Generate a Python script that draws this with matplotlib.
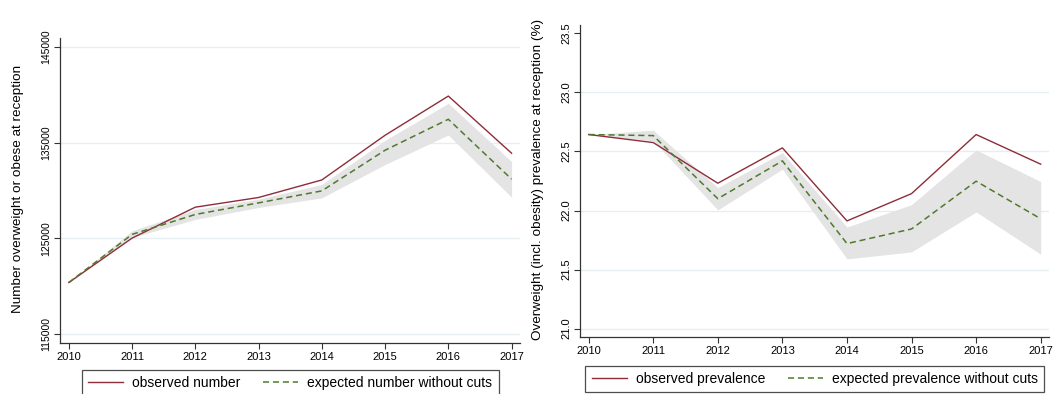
import matplotlib
matplotlib.use("Agg")
import matplotlib.pyplot as plt
from matplotlib.ticker import FixedLocator, FormatStrFormatter

plt.rcParams['font.family'] = ['Liberation Sans', 'DejaVu Sans']

years = [2010, 2011, 2012, 2013, 2014, 2015, 2016, 2017]

# Left panel: number overweight or obese at reception
num_observed = [120400, 125030, 128260, 129270, 131100, 135760, 139850, 133890]
num_expected = [120400, 125420, 127500, 128710, 129960, 134200, 137430, 131180]
num_upper = [120400, 125800, 128020, 129100, 130630, 135240, 139090, 133020]
num_lower = [120400, 125100, 126980, 128230, 129230, 132710, 135790, 129300]
num_yticks = [115000, 125000, 135000, 145000]

# Right panel: prevalence (%)
prev_observed = [22.643, 22.575, 22.231, 22.530, 21.912, 22.143, 22.643, 22.392]
prev_expected = [22.643, 22.634, 22.100, 22.420, 21.720, 21.844, 22.248, 21.930]
prev_upper = [22.643, 22.680, 22.194, 22.490, 21.860, 22.050, 22.513, 22.245]
prev_lower = [22.643, 22.590, 22.005, 22.350, 21.590, 21.650, 21.988, 21.630]
prev_yticks = [21.0, 21.5, 22.0, 22.5, 23.0, 23.5]

W, H = 1055, 394
fig = plt.figure(figsize=(W / 100, H / 100), dpi=100)

RED = '#8e2d3a'
GREEN = '#4f7a2c'
BAND = '#e4e4e4'
GRID = '#e5eef1'
AX = '#333333'


def style(ax, ylim, yticks, fmt, ylabel, label_x, tick_fs):
    ax.set_xlim(2009.866, 2017.133)
    ax.set_ylim(*ylim)
    ax.set_xticks(years)
    ax.set_xticklabels([str(y) for y in years])
    ax.yaxis.set_major_locator(FixedLocator(yticks))
    ax.yaxis.set_major_formatter(FormatStrFormatter(fmt))
    for s in ['top', 'right']:
        ax.spines[s].set_visible(False)
    for s in ['left', 'bottom']:
        ax.spines[s].set_color(AX)
        ax.spines[s].set_linewidth(0.9)
    ax.tick_params(axis='both', direction='out', length=4, width=0.8, color=AX)
    ax.tick_params(axis='x', labelsize=8, pad=2.5)
    ax.tick_params(axis='y', labelsize=tick_fs, pad=2.5)
    for lab in ax.get_yticklabels():
        lab.set_rotation(90)
        lab.set_va('center')
    ax.grid(axis='y', color=GRID, linewidth=1.0)
    ax.set_axisbelow(True)
    ax.set_ylabel(ylabel, fontsize=9.7)
    ax.yaxis.set_label_coords(label_x, 0.504)


# Left axes
axL = fig.add_axes([60.3 / W, 1 - 342.7 / H, (520 - 60.3) / W, (342.7 - 38.3) / H])
axL.fill_between(years, num_lower, num_upper, color=BAND, linewidth=0, zorder=1)
axL.plot(years, num_observed, color=RED, linewidth=1.0, zorder=3, label='observed number')
l2, = axL.plot(years, num_expected, color=GREEN, linewidth=1.1, zorder=4,
               label='expected number without cuts')
l2.set_dashes((4.0, 2.5))
style(axL, (114125, 145875), num_yticks, '%d',
      'Number overweight or obese at reception', -0.0779, 7.5)
legL = axL.legend(loc='upper center', bbox_to_anchor=(0.4997, -0.0897), ncol=2,
                  frameon=True, fancybox=False, edgecolor='#222222', fontsize=10,
                  handlelength=2.55, handletextpad=0.65, columnspacing=1.6,
                  borderaxespad=0, borderpad=0.45)
legL.get_frame().set_linewidth(0.9)

# Right axes
axR = fig.add_axes([580 / W, 1 - 337.3 / H, (1049.3 - 580) / W, (337.3 - 25) / H])
axR.fill_between(years, prev_lower, prev_upper, color=BAND, linewidth=0, zorder=1)
axR.plot(years, prev_observed, color=RED, linewidth=1.0, zorder=3, label='observed prevalence')
r2, = axR.plot(years, prev_expected, color=GREEN, linewidth=1.1, zorder=4,
               label='expected prevalence without cuts')
r2.set_dashes((4.0, 2.5))
style(axR, (20.927, 23.570), prev_yticks, '%.1f',
      'Overweight (incl. obesity) prevalence at reception (%)', -0.0767, 8)
axR.yaxis.get_gridlines()[-1].set_visible(False)
legR = axR.legend(loc='upper center', bbox_to_anchor=(0.5004, -0.0909), ncol=2,
                  frameon=True, fancybox=False, edgecolor='#222222', fontsize=10,
                  handlelength=2.55, handletextpad=0.65, columnspacing=1.6,
                  borderaxespad=0, borderpad=0.45)
legR.get_frame().set_linewidth(0.9)

fig.savefig('out.png', dpi=100, facecolor='white')
